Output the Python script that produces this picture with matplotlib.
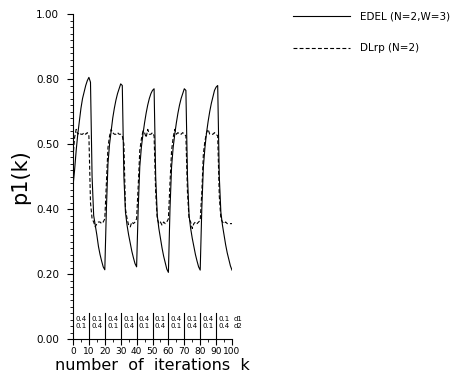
import matplotlib.pyplot as plt
import numpy as np
from matplotlib.ticker import MultipleLocator, FixedLocator

# iteration index
k = np.arange(0, 101)

# EDEL (N=2, W=3) - solid curve
edel = [0.47, 0.52, 0.58, 0.63, 0.67, 0.71, 0.74, 0.76, 0.78, 0.795,
        0.805, 0.79, 0.50, 0.38, 0.35, 0.32, 0.285, 0.26, 0.24, 0.222,
        0.213, 0.40, 0.54, 0.60, 0.64, 0.68, 0.71, 0.735, 0.755, 0.77,
        0.785, 0.78, 0.50, 0.39, 0.35, 0.32, 0.295, 0.27, 0.25, 0.232,
        0.222, 0.40, 0.53, 0.59, 0.63, 0.665, 0.695, 0.72, 0.74, 0.755,
        0.765, 0.77, 0.50, 0.38, 0.34, 0.31, 0.28, 0.255, 0.235, 0.215,
        0.205, 0.40, 0.53, 0.59, 0.63, 0.665, 0.695, 0.72, 0.74, 0.755,
        0.77, 0.765, 0.50, 0.38, 0.34, 0.31, 0.285, 0.26, 0.24, 0.222,
        0.212, 0.40, 0.53, 0.59, 0.635, 0.67, 0.70, 0.725, 0.745, 0.765,
        0.775, 0.78, 0.50, 0.39, 0.35, 0.32, 0.29, 0.265, 0.245, 0.225,
        0.212]

# DLrp (N=2) - dashed curve
dlrp = [0.56, 0.62, 0.645, 0.63, 0.635, 0.63, 0.63, 0.635, 0.63, 0.635,
        0.625, 0.42, 0.37, 0.36, 0.345, 0.355, 0.36, 0.36, 0.355, 0.36,
        0.37, 0.48, 0.59, 0.625, 0.645, 0.635, 0.63, 0.63, 0.635, 0.63,
        0.63, 0.625, 0.60, 0.40, 0.37, 0.35, 0.345, 0.36, 0.355, 0.36,
        0.37, 0.47, 0.58, 0.615, 0.64, 0.635, 0.62, 0.645, 0.63, 0.63,
        0.635, 0.625, 0.45, 0.37, 0.355, 0.36, 0.35, 0.36, 0.355, 0.36,
        0.37, 0.48, 0.58, 0.62, 0.645, 0.63, 0.635, 0.63, 0.63, 0.635,
        0.63, 0.625, 0.45, 0.37, 0.36, 0.34, 0.355, 0.36, 0.355, 0.36,
        0.365, 0.45, 0.57, 0.61, 0.635, 0.645, 0.63, 0.63, 0.63, 0.635,
        0.63, 0.625, 0.44, 0.37, 0.36, 0.355, 0.36, 0.355, 0.355, 0.355,
        0.355]

# parameter schedule shown along the bottom
seg_edges = [10, 20, 30, 40, 50, 60, 70, 80, 90]
d1 = ['0.4', '0.1', '0.4', '0.1', '0.4', '0.1', '0.4', '0.1', '0.4', '0.1']
d2 = ['0.1', '0.4', '0.1', '0.4', '0.1', '0.4', '0.1', '0.4', '0.1', '0.4']

ytick_vals = [0.0, 0.2, 0.4, 0.6, 0.8, 1.0]
ytick_labels = ['0.00', '0.20', '0.40', '0.50', '0.80', '1.00']

fig = plt.figure(figsize=(4.57, 3.74), dpi=100)
ax = fig.add_axes([73 / 457, 1 - 339 / 374, (232 - 73) / 457, (339 - 14) / 374])

ax.plot(k, edel, color='black', lw=0.8, label='EDEL (N=2,W=3)')
ax.plot(k, dlrp, color='black', lw=0.8, dashes=(3.5, 2), label='DLrp (N=2)')

# schedule boxes
for e in seg_edges:
    ax.plot([e, e], [0, 0.08], color='black', lw=0.8)
for i in range(10):
    xc = 10 * i + 5
    ax.text(xc, 0.063, d1[i], fontsize=5, ha='center', va='center')
    ax.text(xc, 0.040, d2[i], fontsize=5, ha='center', va='center')
ax.text(101, 0.063, 'd1', fontsize=5, ha='left', va='center')
ax.text(101, 0.040, 'd2', fontsize=5, ha='left', va='center')

ax.set_xlim(0, 100)
ax.set_ylim(0, 1.0)
ax.spines['top'].set_visible(False)
ax.spines['right'].set_visible(False)
ax.spines['left'].set_linewidth(0.8)
ax.spines['bottom'].set_linewidth(0.8)

ax.xaxis.set_major_locator(MultipleLocator(10))
ax.xaxis.set_minor_locator(MultipleLocator(5))
ax.yaxis.set_major_locator(FixedLocator(ytick_vals))
ax.set_yticklabels(ytick_labels)
ax.yaxis.set_minor_locator(MultipleLocator(0.02))
ax.tick_params(axis='both', which='major', length=4, width=0.8, labelsize=7.5)
ax.tick_params(axis='both', which='minor', length=2.5, width=0.6)
ax.tick_params(axis='y', pad=6)
ax.tick_params(axis='x', pad=2, labelsize=6.5)

ax.set_xlabel('number  of  iterations  k', fontsize=11.5, labelpad=1)
ax.set_ylabel('p1(k)', fontsize=15, labelpad=4)

fig.legend(loc='upper left', bbox_to_anchor=(284 / 457, 1 - 2 / 374),
           frameon=False, fontsize=7.5, handlelength=5.4, handletextpad=1.0,
           labelspacing=2.1)

fig.savefig('out.png', dpi=100)
